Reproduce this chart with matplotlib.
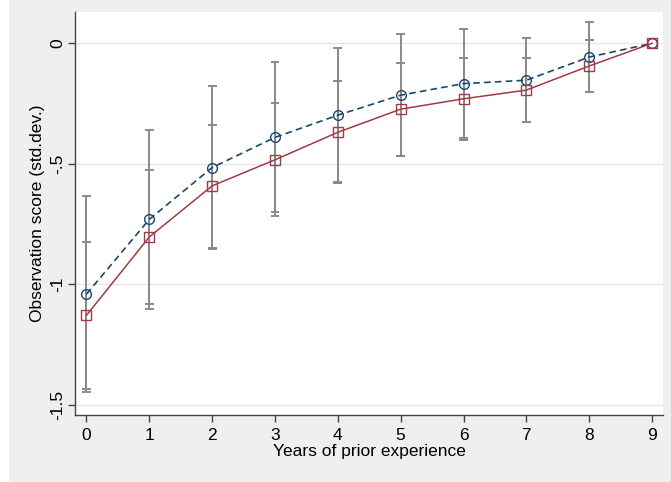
import numpy as np
import matplotlib.pyplot as plt
from matplotlib.patches import Rectangle

# Données
years = [0, 1, 2, 3, 4, 5, 6, 7, 8, 9]

circ_score = [-1.04, -0.73, -0.515, -0.39, -0.298, -0.215, -0.167, -0.153, -0.057, 0.0]
circ_lo = [-1.445, -1.10, -0.853, -0.70, -0.577, -0.467, -0.392, -0.328, -0.201, None]
circ_hi = [-0.635, -0.36, -0.178, -0.079, -0.018, 0.037, 0.058, 0.022, 0.087, None]

sq_score = [-1.128, -0.803, -0.591, -0.483, -0.369, -0.273, -0.230, -0.194, -0.094, 0.0]
sq_lo = [-1.434, -1.083, -0.848, -0.715, -0.580, -0.466, -0.399, -0.327, -0.203, None]
sq_hi = [-0.825, -0.525, -0.339, -0.248, -0.157, -0.080, -0.061, -0.061, 0.015, None]

y_ticks = [0, -0.5, -1, -1.5]
y_labels = ['0', '-.5', '-1', '-1.5']

plt.rcParams['font.family'] = ['Liberation Sans', 'DejaVu Sans']

fig = plt.figure(figsize=(6.71, 4.82), dpi=100)
fig.patch.set_facecolor('#efefef')
# bande blanche à gauche
fig.patches.append(Rectangle((0, 0), 9 / 671, 1, transform=fig.transFigure,
                             facecolor='white', edgecolor='none', zorder=0))
ax = fig.add_axes([75 / 671, 1 - 415 / 482, 588 / 671, 403 / 482])
ax.set_facecolor('white')

gray = '#8a8a8a'
for lo, hi in [(circ_lo, circ_hi), (sq_lo, sq_hi)]:
    xs = [x for x, l in zip(years, lo) if l is not None]
    l = np.array([v for v in lo if v is not None])
    h = np.array([v for v in hi if v is not None])
    ax.vlines(xs, l, h, color=gray, lw=1.4, zorder=2)
    ax.hlines(l, np.array(xs) - 0.07, np.array(xs) + 0.07, color=gray, lw=1.4, zorder=2)
    ax.hlines(h, np.array(xs) - 0.07, np.array(xs) + 0.07, color=gray, lw=1.4, zorder=2)

ax.plot(years, circ_score, color='#1a476f', ls=(0, (4, 2.5)), lw=1.2,
        marker='o', ms=7, mfc='none', mec='#1a476f', mew=1.0, zorder=3)
ax.plot(years, sq_score, color='#a23a45', ls='-', lw=1.1,
        marker='s', ms=7, mfc='none', mec='#a23a45', mew=1.0, zorder=3)

ax.set_xlim(-0.183, 9.175)
ax.set_ylim(-1.5415, 0.13)
ax.set_xticks(years)
ax.set_yticks(y_ticks)
ax.set_yticklabels(y_labels, rotation=90, va='center')
ax.tick_params(axis='both', labelsize=12.5, length=5, width=1, color='#444444')
ax.tick_params(axis='y', pad=2)
ax.tick_params(axis='x', pad=4)
ax.grid(axis='y', color='#e6e6e6', lw=1)
ax.set_axisbelow(True)
for s in ['top', 'right']:
    ax.spines[s].set_visible(False)
for s in ['left', 'bottom']:
    ax.spines[s].set_color('#444444')
    ax.spines[s].set_linewidth(1)

ax.set_xlabel('Years of prior experience', fontsize=12.5, labelpad=1)
ax.set_ylabel('Observation score (std.dev.)', fontsize=12.5, labelpad=4)

plt.savefig('out.png', dpi=100, facecolor=fig.get_facecolor())
